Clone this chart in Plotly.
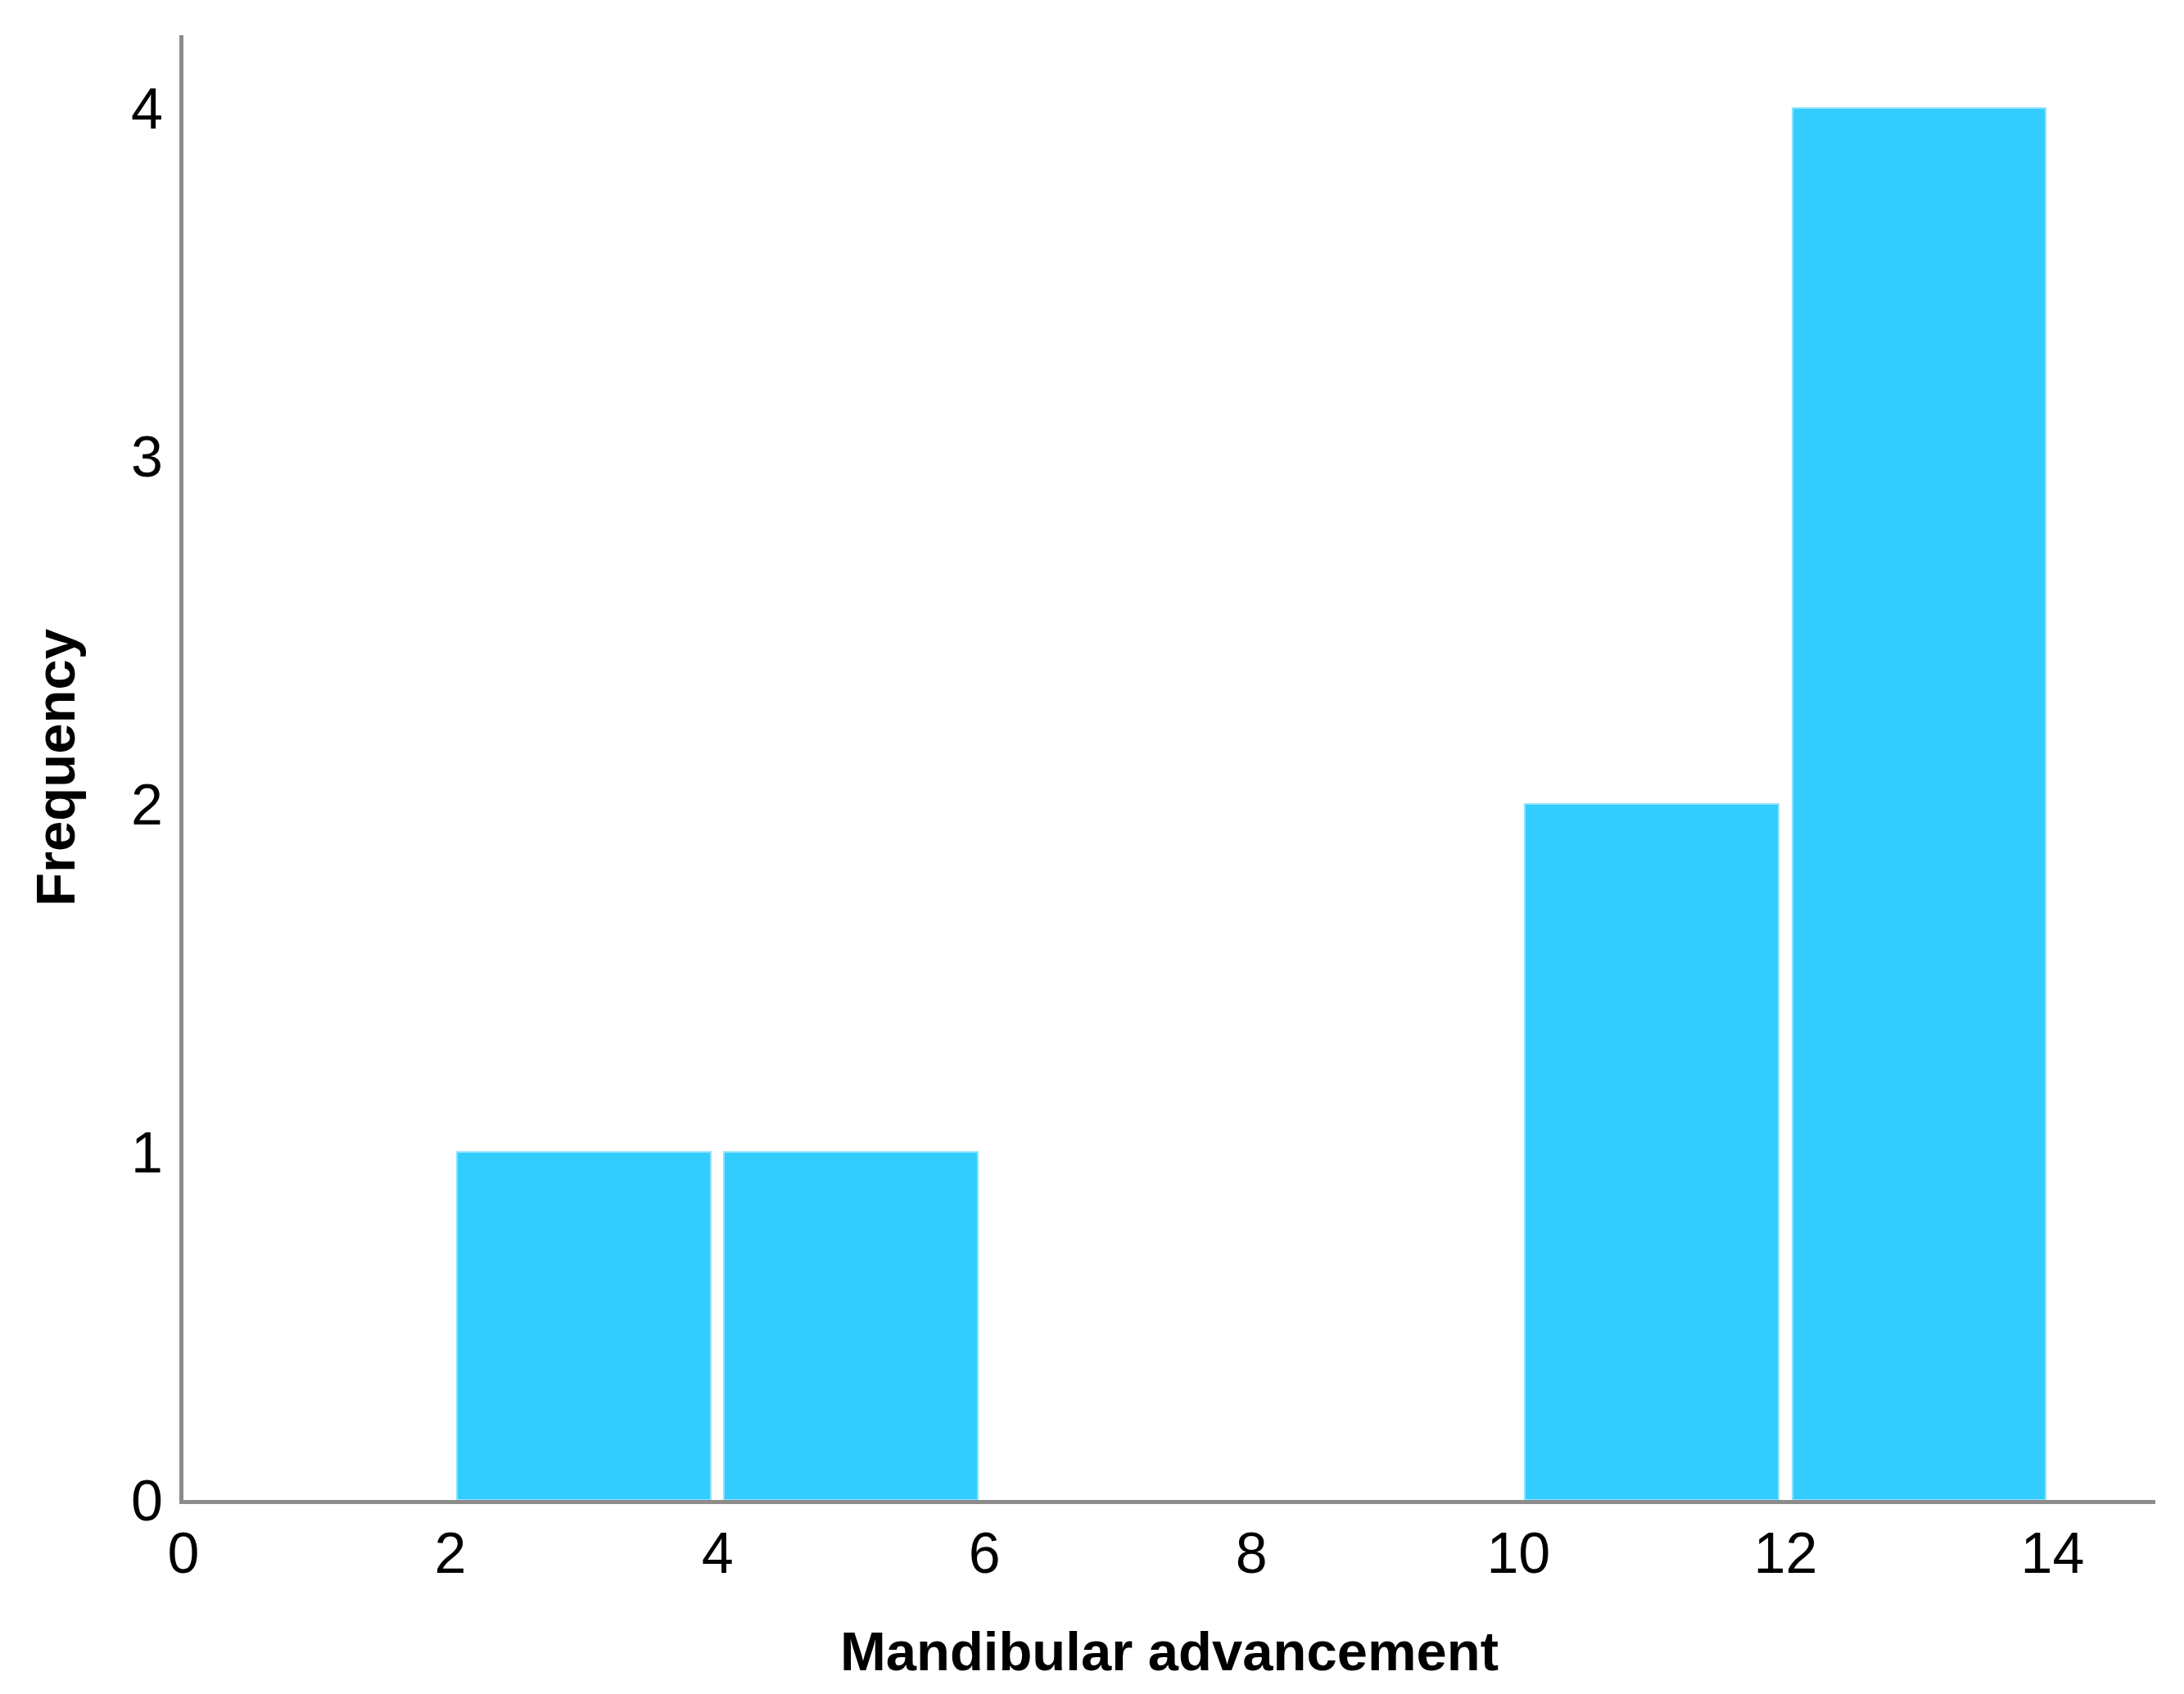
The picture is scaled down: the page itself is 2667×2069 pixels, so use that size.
import plotly.graph_objects as go

bin_starts = [0, 2, 4, 6, 8, 10, 12]
bin_width = 2
counts = [0, 1, 1, 0, 0, 2, 4]
x_ticks = [0, 2, 4, 6, 8, 10, 12, 14]
y_ticks = [0, 1, 2, 3, 4]

centers = [s + bin_width / 2 for s in bin_starts]
line_widths = [2 if c > 0 else 0 for c in counts]

fig = go.Figure()
fig.add_trace(go.Bar(
    x=centers, y=counts, width=[bin_width * 0.95] * len(centers),
    marker=dict(color="#33CCFF", line=dict(color="#8FE3FF", width=line_widths)),
    showlegend=False,
))

tickfont = dict(family="Liberation Sans, Arial", size=70, color="#000000")
titlefont = dict(family="Liberation Sans, Arial", size=67, color="#000000")

fig.update_layout(
    width=2667, height=2069,
    margin=dict(l=216, r=43, t=35, b=245),
    paper_bgcolor="white", plot_bgcolor="white",
    bargap=0,
    xaxis=dict(
        range=[0, 14.77], tickmode="array", tickvals=x_ticks, ticktext=[str(v) for v in x_ticks],
        showgrid=False, zeroline=False, showline=True, linecolor="#8c8c8c", linewidth=5,
        ticks="", tickfont=tickfont, ticklabelstandoff=0,
        title=dict(text="<b>Mandibular advancement</b>", font=titlefont, standoff=60),
    ),
    yaxis=dict(
        range=[0, 4.21], tickmode="array", tickvals=y_ticks, ticktext=[str(v) for v in y_ticks],
        showgrid=False, zeroline=False, showline=True, linecolor="#8c8c8c", linewidth=5,
        ticks="", tickfont=tickfont, ticklabelstandoff=6,
        title=dict(text="<b>Frequency</b>", font=titlefont, standoff=48),
    ),
)

fig.write_html("out.html")
